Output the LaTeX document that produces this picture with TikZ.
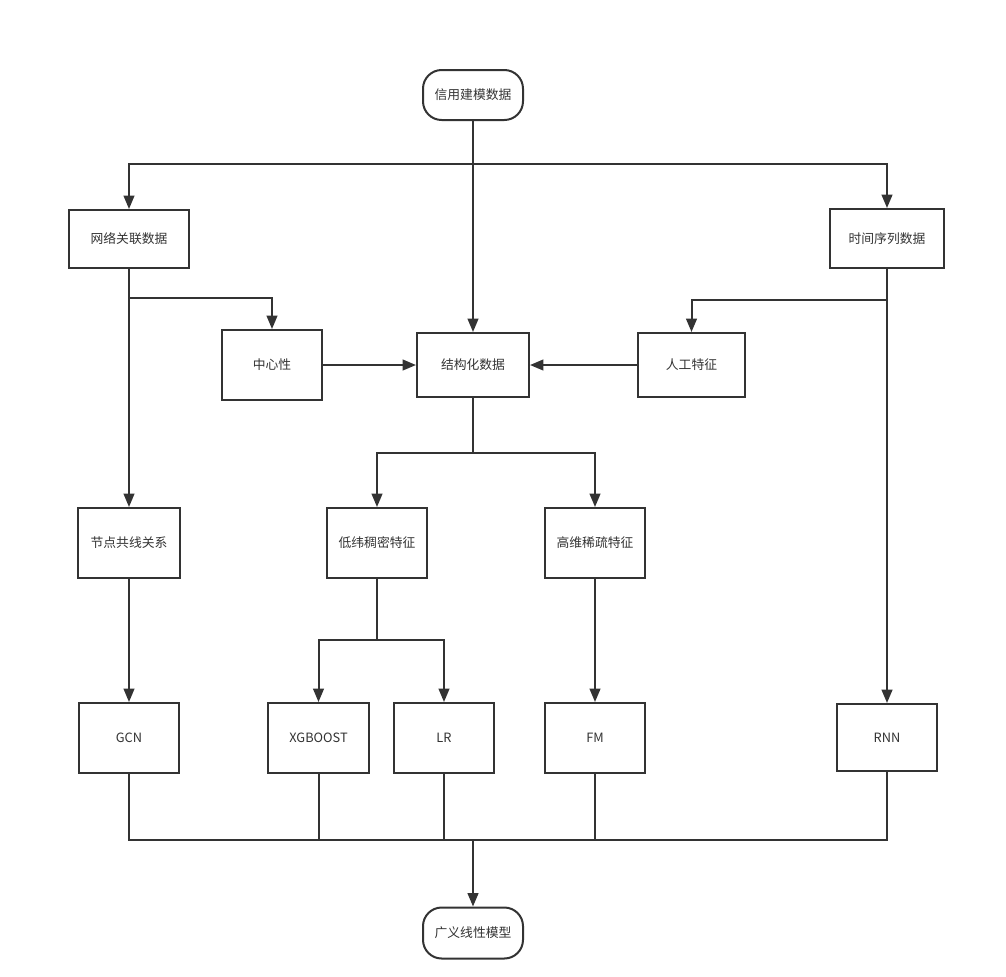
\documentclass[tikz,border=0pt]{standalone}
\usepackage{fontspec}
\setmainfont{Noto Sans CJK SC}
\usetikzlibrary{arrows.meta}
\definecolor{ln}{HTML}{333333}
\tikzset{
  px/.style={x=0.75pt,y=-0.75pt},
  box/.style={draw=ln,line width=1.5pt,fill=white,text=ln,inner sep=0pt,font=\fontsize{9.6}{11}\selectfont},
  term/.style={box,rounded corners=14pt},
  conn/.style={draw=ln,line width=1.5pt},
  arr/.style={conn,-{Triangle[length=10pt,width=8pt]}},
}
\begin{document}
\begin{tikzpicture}[px]
\useasboundingbox (0,0) rectangle (1006,976);
\node[term,minimum width=75pt,minimum height=37.5pt] (src) at (473,95) {信用建模数据};
\node[box,minimum width=90pt,minimum height=43.5pt] (net) at (129,239) {网络关联数据};
\node[box,minimum width=85.5pt,minimum height=44.25pt] (ts) at (887,238.5) {时间序列数据};
\node[box,minimum width=75pt,minimum height=52.5pt] (cen) at (272,365) {中心性};
\node[box,minimum width=84pt,minimum height=48pt] (str) at (473,365) {结构化数据};
\node[box,minimum width=80.25pt,minimum height=48pt] (man) at (691.5,365) {人工特征};
\node[box,minimum width=76.5pt,minimum height=52.5pt] (node) at (129,543) {节点共线关系};
\node[box,minimum width=75pt,minimum height=52.5pt] (low) at (377,543) {低纬稠密特征};
\node[box,minimum width=75pt,minimum height=52.5pt] (high) at (595,543) {高维稀疏特征};
\node[box,minimum width=75pt,minimum height=52.5pt] (gcn) at (129,738) {GCN};
\node[box,minimum width=75.75pt,minimum height=52.5pt] (xgb) at (318.5,738) {XGBOOST};
\node[box,minimum width=75pt,minimum height=52.5pt] (lr) at (444,738) {LR};
\node[box,minimum width=75pt,minimum height=52.5pt] (fm) at (595,738) {FM};
\node[box,minimum width=75pt,minimum height=50.25pt] (rnn) at (887,737.5) {RNN};
\node[term,minimum width=75pt,minimum height=38.25pt] (glm) at (473,933) {广义线性模型};
% coordinates
\coordinate (j1) at (473,164);
\coordinate (j2) at (129,298);
\coordinate (j3) at (887,300);
\coordinate (j4) at (473,453);
\coordinate (j5) at (377,640);
\coordinate (j6) at (473,840);
% top
\draw[arr] (src.south) -- (str.north);
\draw[arr] (j1) -| (net.north);
\draw[arr] (j1) -| (ts.north);
% left column
\draw[arr] (net.south) -- (node.north);
\draw[arr] (j2) -| (cen.north);
% right column
\draw[arr] (ts.south) -- (rnn.north);
\draw[arr] (j3) -| (man.north);
% into structured
\draw[arr] (cen.east) -- (str.west);
\draw[arr] (man.west) -- (str.east);
% structured down
\draw[conn] (str.south) -- (j4);
\draw[arr] (j4) -| (low.north);
\draw[arr] (j4) -| (high.north);
\draw[arr] (node.south) -- (gcn.north);
\draw[conn] (low.south) -- (j5);
\draw[arr] (j5) -| (xgb.north);
\draw[arr] (j5) -| (lr.north);
\draw[arr] (high.south) -- (fm.north);
% bottom merge
\draw[conn] (gcn.south) |- (j6);
\draw[conn] (xgb.south) |- (j6);
\draw[conn] (lr.south) |- (j6);
\draw[conn] (fm.south) |- (j6);
\draw[conn] (rnn.south) |- (j6);
\draw[arr] (j6) -- (glm.north);
\end{tikzpicture}
\end{document}
